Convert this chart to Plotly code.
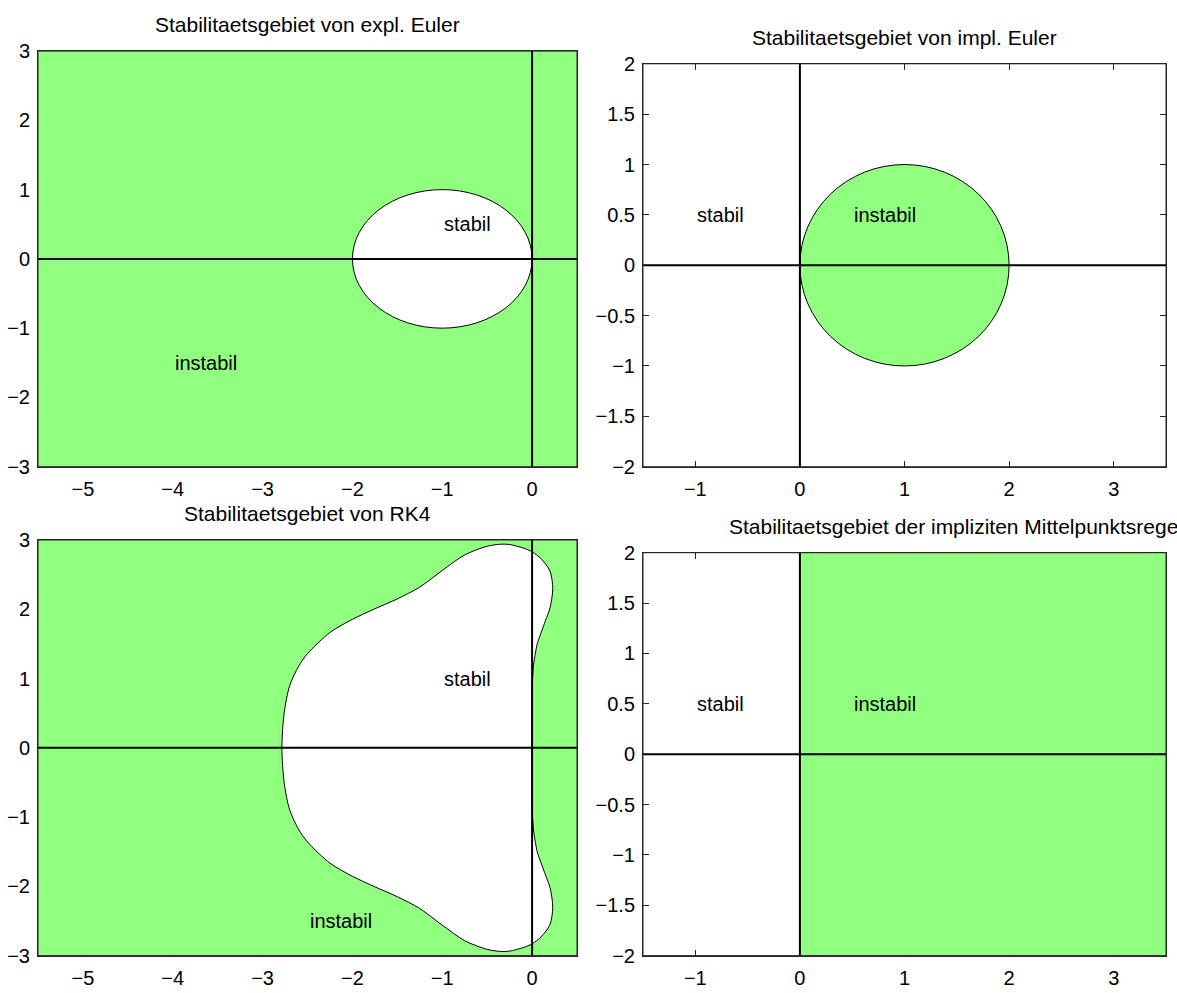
import plotly.graph_objects as go

W, H = 1177, 993
GREEN = "rgb(145,255,128)"
FRAME = "#262626"
FONT = "Liberation Sans, Arial, Helvetica, sans-serif"

# axis ranges of the two kinds of panels
left_xrange = [-5.5, 0.5]
left_yrange = [-3, 3]
right_xrange = [-1.5, 3.5]
right_yrange = [-2, 2]

left_xticks = [-5, -4, -3, -2, -1, 0]
left_yticks = [-3, -2, -1, 0, 1, 2, 3]
right_xticks = [-1, 0, 1, 2, 3]
right_yticks = [-2, -1.5, -1, -0.5, 0, 0.5, 1, 1.5, 2]

# explicit / implicit Euler: disc |1 + z| <= 1 and |1 - z| >= 1
expl_center, expl_radius = (-1.0, 0.0), 1.0
impl_center, impl_radius = (1.0, 0.0), 1.0

# RK4 boundary, upper half (origin -> left apex)
rk4_upper_x = [0.0, 0.002, 0.006, 0.017, 0.035, 0.057, 0.10, 0.15, 0.20, 0.23,
               0.20, 0.10, 0.0, -0.10, -0.25, -0.35, -0.50, -0.75, -1.00, -1.25,
               -1.50, -1.75, -2.00, -2.25, -2.50, -2.60, -2.70, -2.76, -2.785]
rk4_upper_y = [0.0, 0.8, 1.0, 1.2, 1.35, 1.5, 1.66, 1.84, 2.02, 2.3,
               2.55, 2.73, 2.83, 2.885, 2.935, 2.94, 2.91, 2.785, 2.56, 2.32,
               2.15, 2.007, 1.855, 1.665, 1.36, 1.175, 0.89, 0.5, 0.0]
# RK4 boundary, lower half (left apex -> origin)
rk4_lower_x = [-2.76, -2.70, -2.60, -2.50, -2.25, -2.00, -1.75, -1.50, -1.25, -1.00,
               -0.75, -0.50, -0.35, -0.25, -0.10, 0.0, 0.10, 0.20, 0.23, 0.20,
               0.15, 0.10, 0.057, 0.035, 0.017, 0.006, 0.002, 0.0]
rk4_lower_y = [-0.5, -0.89, -1.175, -1.36, -1.665, -1.855, -2.007, -2.15, -2.32, -2.56,
               -2.785, -2.91, -2.94, -2.935, -2.885, -2.83, -2.73, -2.55, -2.3, -2.02,
               -1.84, -1.66, -1.5, -1.35, -1.2, -1.0, -0.8, 0.0]

titles = [
    "Stabilitaetsgebiet von expl. Euler",
    "Stabilitaetsgebiet von impl. Euler",
    "Stabilitaetsgebiet von RK4",
    "Stabilitaetsgebiet der impliziten Mittelpunktsregel",
]

# (panel, text, x, y)
labels = [
    (1, "stabil", -1, 0.5), (1, "instabil", -4, -1.5),
    (2, "stabil", -1, 0.5), (2, "instabil", 0.5, 0.5),
    (3, "stabil", -1, 1), (3, "instabil", -2.5, -2.5),
    (4, "stabil", -1, 0.5), (4, "instabil", 0.5, 0.5),
]

# pixel boxes of the four panels: left, top, right, bottom
boxes = [
    (38, 41, 577, 466),
    (643, 54, 1166, 466),
    (38, 541, 577, 966),
    (643, 554, 1166, 966),
]
ranges = [
    (left_xrange, left_yrange, left_xticks, left_yticks),
    (right_xrange, right_yrange, right_xticks, right_yticks),
    (left_xrange, left_yrange, left_xticks, left_yticks),
    (right_xrange, right_yrange, right_xticks, right_yticks),
]


def tick_text(v):
    s = f"{v:g}"
    return s.replace("-", "\u2212")


def rect_xy(xr, yr):
    return [xr[0], xr[1], xr[1], xr[0], xr[0]], [yr[0], yr[0], yr[1], yr[1], yr[0]]


fig = go.Figure()
layout = dict(width=W, height=H, margin=dict(l=0, r=0, t=0, b=0),
              paper_bgcolor="white", plot_bgcolor="white", showlegend=False,
              font=dict(family=FONT, size=20, color="black"))
shapes, annotations = [], []

for i, (box, (xr, yr, xt, yt)) in enumerate(zip(boxes, ranges), start=1):
    l, t, r, b = box
    sfx = "" if i == 1 else str(i)
    layout["xaxis" + sfx] = dict(
        domain=[l / W, r / W], range=xr, anchor="y" + sfx,
        tickvals=xt, ticktext=[tick_text(v) for v in xt],
        ticks="inside", ticklen=6, tickwidth=1, tickcolor=FRAME,
        showline=True, linecolor=FRAME, linewidth=1, mirror="ticks",
        showgrid=False, zeroline=False, layer="below traces",
        tickfont=dict(size=20), ticklabelstandoff=4)
    layout["yaxis" + sfx] = dict(
        domain=[1 - b / H, 1 - t / H], range=yr, anchor="x" + sfx,
        tickvals=yt, ticktext=[tick_text(v) for v in yt],
        ticks="inside", ticklen=6, tickwidth=1, tickcolor=FRAME,
        showline=True, linecolor=FRAME, linewidth=1, mirror="ticks",
        showgrid=False, zeroline=False, layer="below traces",
        tickfont=dict(size=20), ticklabelstandoff=3)
    title = dict(text=titles[i - 1], xref="paper", yref="paper",
                 x=(l + r) / 2 / W, y=1 - t / H, xanchor="center", yanchor="bottom",
                 yshift=13, showarrow=False, font=dict(size=21))
    if i == 4:
        # long title runs off the right edge of the figure
        title.update(x=727 / W, xanchor="left")
    annotations.append(title)

xa = lambda i: "x" if i == 1 else f"x{i}"
ya = lambda i: "y" if i == 1 else f"y{i}"

# panel 1: whole plane unstable, disc stable
gx, gy = rect_xy(left_xrange, left_yrange)
fig.add_trace(go.Scatter(x=gx, y=gy, xaxis=xa(1), yaxis=ya(1), mode="lines",
                         fill="toself", fillcolor=GREEN, line=dict(width=0),
                         hoverinfo="skip"))
shapes.append(dict(type="circle", xref=xa(1), yref=ya(1),
                   x0=expl_center[0] - expl_radius, x1=expl_center[0] + expl_radius,
                   y0=expl_center[1] - expl_radius, y1=expl_center[1] + expl_radius,
                   fillcolor="white", line=dict(color="black", width=1), layer="above"))

# panel 2: disc unstable
shapes.append(dict(type="circle", xref=xa(2), yref=ya(2),
                   x0=impl_center[0] - impl_radius, x1=impl_center[0] + impl_radius,
                   y0=impl_center[1] - impl_radius, y1=impl_center[1] + impl_radius,
                   fillcolor=GREEN, line=dict(color="black", width=1), layer="above"))

# panel 3: RK4
gx, gy = rect_xy(left_xrange, left_yrange)
fig.add_trace(go.Scatter(x=gx, y=gy, xaxis=xa(3), yaxis=ya(3), mode="lines",
                         fill="toself", fillcolor=GREEN, line=dict(width=0),
                         hoverinfo="skip"))
fig.add_trace(go.Scatter(x=rk4_upper_x + rk4_lower_x, y=rk4_upper_y + rk4_lower_y,
                         xaxis=xa(3), yaxis=ya(3), mode="lines", fill="toself",
                         fillcolor="white",
                         line=dict(color="black", width=1, shape="spline", smoothing=0.8),
                         hoverinfo="skip"))

# panel 4: right half plane unstable
gx, gy = rect_xy([0, right_xrange[1]], right_yrange)
fig.add_trace(go.Scatter(x=gx, y=gy, xaxis=xa(4), yaxis=ya(4), mode="lines",
                         fill="toself", fillcolor=GREEN, line=dict(width=0),
                         hoverinfo="skip"))

# coordinate axes and panel frames
for i in range(1, 5):
    shapes.append(dict(type="line", xref=xa(i), yref=ya(i) + " domain",
                       x0=0, x1=0, y0=0, y1=1, line=dict(color="black", width=2),
                       layer="above"))
    shapes.append(dict(type="line", xref=xa(i) + " domain", yref=ya(i),
                       x0=0, x1=1, y0=0, y1=0, line=dict(color="black", width=2),
                       layer="above"))
    shapes.append(dict(type="rect", xref=xa(i) + " domain", yref=ya(i) + " domain",
                       x0=0, x1=1, y0=0, y1=1, line=dict(color=FRAME, width=1),
                       fillcolor="rgba(0,0,0,0)", layer="above"))

for panel, text, x, y in labels:
    annotations.append(dict(text=text, xref=xa(panel), yref=ya(panel), x=x, y=y,
                            xanchor="left", yanchor="middle", showarrow=False,
                            font=dict(size=20)))

layout["shapes"] = shapes
layout["annotations"] = annotations
fig.update_layout(**layout)
fig.write_html("out.html")
